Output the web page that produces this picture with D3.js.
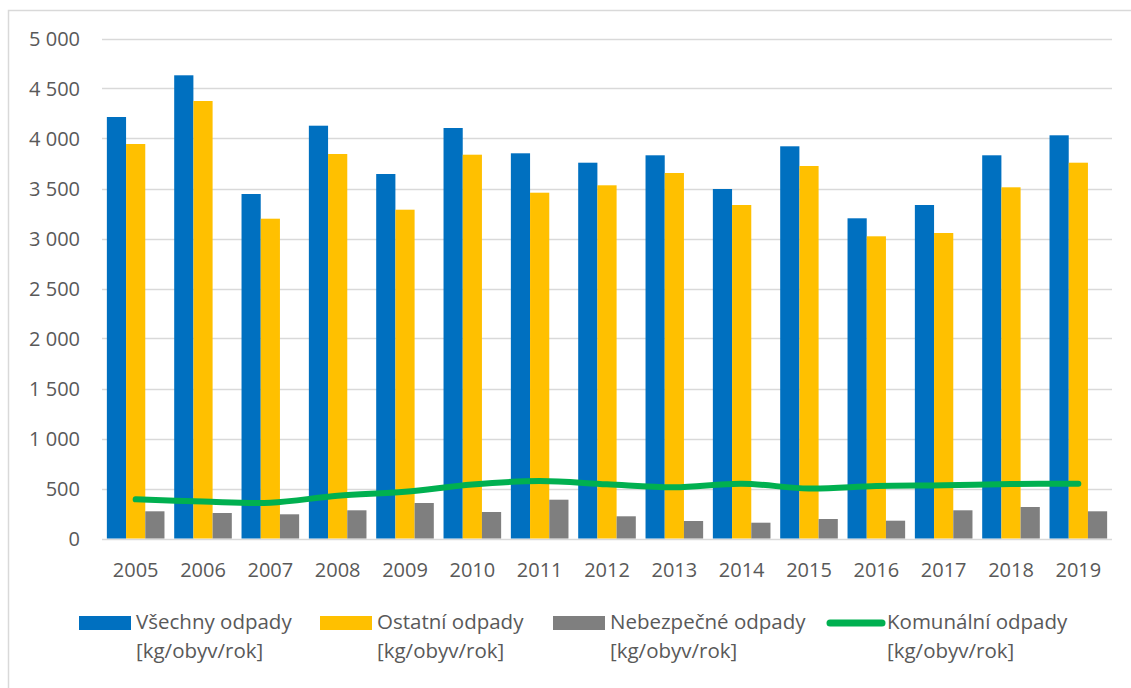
<!DOCTYPE html>
<html lang="cs">
<head>
  <meta charset="UTF-8">
  <title>Odpady</title>
  <script src="https://d3js.org/d3.v7.min.js"></script>
  <style>
    body { margin: 0; background: #fff; }
    text { font-family: "Open Sans", sans-serif; fill: #595959; }
  </style>
</head>
<body>

<div id="chart"></div>

<script>
// Data
const years = ['2005', '2006', '2007', '2008', '2009', '2010', '2011', '2012', '2013', '2014', '2015', '2016', '2017', '2018', '2019'];
const vsechny = [4215, 4632, 3445, 4128, 3645, 4105, 3852, 3758, 3832, 3495, 3922, 3202, 3335, 3832, 4032];
const ostatni = [3945, 4375, 3198, 3845, 3288, 3838, 3458, 3532, 3655, 3335, 3725, 3022, 3055, 3512, 3758];
const nebezpecne = [272, 255, 242, 282, 355, 265, 388, 222, 175, 158, 195, 178, 282, 315, 272];
const komunalni = [392, 370, 358, 428, 468, 540, 575, 542, 512, 548, 500, 525, 532, 545, 548];
const yTicks = [0, 500, 1000, 1500, 2000, 2500, 3000, 3500, 4000, 4500, 5000];

const barSeries = [
  { name: 'Všechny odpady', values: vsechny, color: '#0070C0' },
  { name: 'Ostatní odpady', values: ostatni, color: '#FFC000' },
  { name: 'Nebezpečné odpady', values: nebezpecne, color: '#7F7F7F' }
];
const lineSeries = { name: 'Komunální odpady', values: komunalni, color: '#00B050' };

const width = 1131;
const height = 688;

const svg = d3.select('#chart')
  .append('svg')
  .attr('width', width)
  .attr('height', height);

// chart frame (runs off the right and bottom edge)
svg.append('rect')
  .attr('x', 8.5).attr('y', 10.5)
  .attr('width', 1300).attr('height', 900)
  .attr('fill', 'none')
  .attr('stroke', '#D9D9D9')
  .attr('stroke-width', 1.5);

const x = d3.scaleBand().domain(years).range([102, 1112]).padding(0);
const xs = d3.scaleBand().domain(d3.range(barSeries.length))
  .range([0, x.bandwidth()]).paddingInner(0).paddingOuter(0.253);
const y = d3.scaleLinear().domain([0, 5000]).range([538.5, 38.5]);

const fmt = v => d3.format(',')(v).replace(/,/g, ' ');

// gridlines
svg.append('g')
  .selectAll('line')
  .data(yTicks)
  .join('line')
  .attr('x1', 102).attr('x2', 1112)
  .attr('y1', d => Math.round(y(d)) + 0.5)
  .attr('y2', d => Math.round(y(d)) + 0.5)
  .attr('stroke', '#D9D9D9')
  .attr('stroke-width', 1.3);

// y labels
svg.append('g')
  .selectAll('text')
  .data(yTicks)
  .join('text')
  .attr('x', 80)
  .attr('y', d => y(d) + 7)
  .attr('text-anchor', 'end')
  .style('font-size', '20px')
  .text(fmt);

// bars
barSeries.forEach((s, si) => {
  svg.append('g')
    .selectAll('rect')
    .data(s.values)
    .join('rect')
    .attr('x', (d, i) => x(years[i]) + xs(si))
    .attr('y', d => y(d))
    .attr('width', xs.bandwidth())
    .attr('height', d => y(0) - y(d))
    .attr('fill', s.color);
});

// line
const line = d3.line()
  .x((d, i) => x(years[i]) + x.bandwidth() / 2)
  .y(d => y(d))
  .curve(d3.curveCardinal.tension(0));

svg.append('path')
  .datum(lineSeries.values)
  .attr('d', line)
  .attr('fill', 'none')
  .attr('stroke', lineSeries.color)
  .attr('stroke-width', 6)
  .attr('stroke-linecap', 'round');

// x labels
svg.append('g')
  .selectAll('text')
  .data(years)
  .join('text')
  .attr('x', d => x(d) + x.bandwidth() / 2)
  .attr('y', 577)
  .attr('text-anchor', 'middle')
  .style('font-size', '20px')
  .text(d => d);

// legend
const legendItems = [
  { name: barSeries[0].name, color: barSeries[0].color, type: 'rect', x: 79 },
  { name: barSeries[1].name, color: barSeries[1].color, type: 'rect', x: 320 },
  { name: barSeries[2].name, color: barSeries[2].color, type: 'rect', x: 553 },
  { name: lineSeries.name, color: lineSeries.color, type: 'line', x: 830 }
];

const lg = svg.append('g')
  .selectAll('g')
  .data(legendItems)
  .join('g')
  .attr('transform', d => `translate(${d.x},0)`);

lg.filter(d => d.type === 'rect')
  .append('rect')
  .attr('x', 0).attr('y', 616)
  .attr('width', 52).attr('height', 14)
  .attr('fill', d => d.color);

lg.filter(d => d.type === 'line')
  .append('line')
  .attr('x1', 0).attr('x2', 52)
  .attr('y1', 623).attr('y2', 623)
  .attr('stroke', d => d.color)
  .attr('stroke-width', 7)
  .attr('stroke-linecap', 'round');

lg.append('text')
  .attr('x', 57)
  .attr('y', 629)
  .style('font-size', '20.5px')
  .text(d => d.name);

lg.append('text')
  .attr('x', 57)
  .attr('y', 658)
  .style('font-size', '20.5px')
  .text('[kg/obyv/rok]');
</script>

</body>
</html>
